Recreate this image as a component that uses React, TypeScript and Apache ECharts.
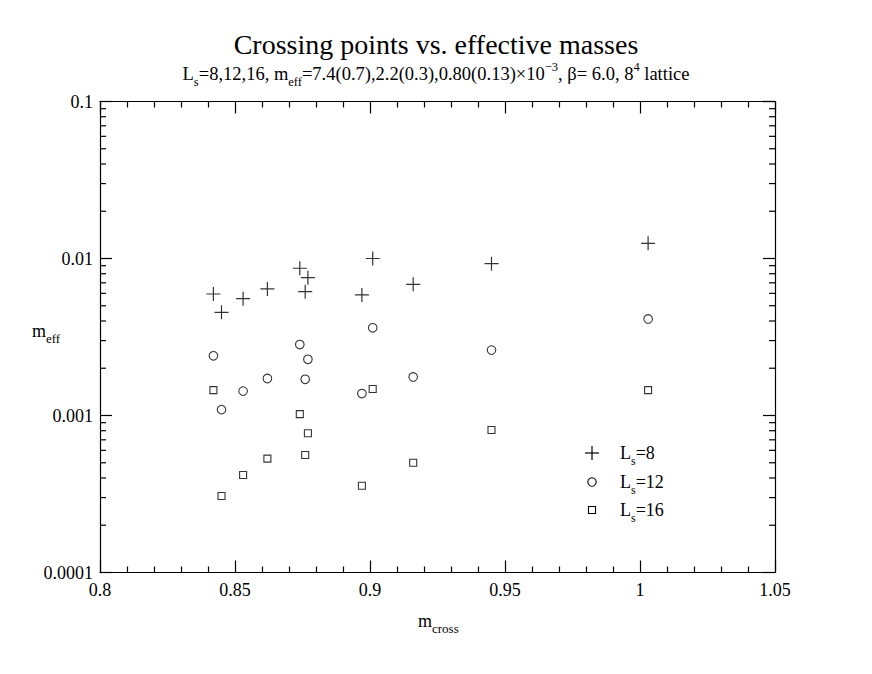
import React, { useEffect, useRef } from "react";
import * as echarts from "echarts";

const xCross = [0.842, 0.845, 0.853, 0.862, 0.874, 0.877, 0.876, 0.897, 0.901, 0.916, 0.945, 1.003];
const ls8 = [0.00594, 0.00454, 0.00555, 0.0064, 0.00867, 0.00755, 0.00615, 0.00586, 0.01, 0.00685, 0.00927, 0.0125];
const ls12 = [0.0024, 0.00109, 0.00143, 0.00172, 0.00283, 0.00228, 0.0017, 0.00138, 0.00362, 0.00176, 0.00261, 0.00412];
const ls16 = [0.00145, 0.000307, 0.000418, 0.000531, 0.00102, 0.000771, 0.00056, 0.000357, 0.001475, 0.0005, 0.000809, 0.00145];

const seriesNames = ["Ls=8", "Ls=12", "Ls=16"];
const legendLabels = ["=8", "=12", "=16"];
const yDecades = [0.0001, 0.001, 0.01];
const minorMultipliers = [2, 3, 4, 5, 6, 7, 8, 9];

const X_MIN = 0.8;
const X_MAX = 1.05;
const Y_MIN = 0.0001;
const Y_MAX = 0.1;

const FONT = "'Liberation Serif', 'DejaVu Serif', serif";
const PLUS = "path://M0,7L14,7M7,0L7,14";

export default function App() {
  const ref = useRef<HTMLDivElement>(null);
  useEffect(() => {
    document.body.style.margin = "0";
    if (!ref.current) return;
    const chart = echarts.init(ref.current, null, { renderer: "svg" });

    const minorVals: number[][] = [];
    yDecades.forEach((d) => minorMultipliers.forEach((k) => minorVals.push([X_MIN, k * d])));

    const pair = (ys: number[]) => xCross.map((x, i) => [x, ys[i]]);

    const base = { fontFamily: FONT, color: "#000" };
    const richN = (size: number) => ({ ...base, fontSize: size, lineHeight: 28 });
    const richSub = (size: number) => ({ ...base, fontSize: size, lineHeight: 8, verticalAlign: "bottom" });
    const richSup = (size: number) => ({ ...base, fontSize: size, lineHeight: 16, verticalAlign: "top" });

    const lineStyle = { color: "#000", width: 1.2 };
    const commonX = {
      type: "value",
      min: X_MIN,
      max: X_MAX,
      interval: 0.05,
      axisLine: { lineStyle },
      axisTick: { inside: true, length: 12, lineStyle },
      minorTick: { show: true, splitNumber: 5, length: 6, lineStyle },
      splitLine: { show: false },
    };
    const commonY = {
      type: "log",
      logBase: 10,
      min: Y_MIN,
      max: Y_MAX,
      axisLine: { lineStyle },
      axisTick: { inside: true, length: 12, lineStyle },
      splitLine: { show: false },
    };

    const legendItems: any[] = [];
    const lx = 592;
    const ly = [453, 482, 510];
    legendItems.push(
      { type: "line", shape: { x1: lx - 7, y1: ly[0], x2: lx + 7, y2: ly[0] }, style: { stroke: "#000", lineWidth: 1.2 } },
      { type: "line", shape: { x1: lx, y1: ly[0] - 7, x2: lx, y2: ly[0] + 7 }, style: { stroke: "#000", lineWidth: 1.2 } },
      { type: "circle", shape: { cx: lx, cy: ly[1], r: 4.2 }, style: { fill: "none", stroke: "#000", lineWidth: 1.1 } },
      { type: "rect", shape: { x: lx - 3.5, y: ly[2] - 3.5, width: 7, height: 7 }, style: { fill: "none", stroke: "#000", lineWidth: 1.1 } }
    );
    legendLabels.forEach((t, i) => {
      legendItems.push({
        type: "text",
        style: {
          x: 620,
          y: ly[i],
          text: `{n|L}{s|s}{n|${t}}`,
          verticalAlign: "middle",
          align: "left",
          rich: { n: richN(18), s: { ...richSub(12), lineHeight: 12 } },
        },
      });
    });

    chart.setOption({
      animation: false,
      backgroundColor: "#fff",
      title: [
        {
          text: "Crossing points vs. effective masses",
          left: "center",
          top: 25,
          textStyle: { fontFamily: FONT, fontSize: 28, fontWeight: "normal", color: "#000" },
        },
        {
          text: "{n|L}{s|s}{n|=8,12,16, m}{s|eff}{n|=7.4(0.7),2.2(0.3),0.80(0.13)×10}{p|−3}{n|, β= 6.0, 8}{p|4}{n| lattice}",
          left: "center",
          top: 55,
          textStyle: {
            fontFamily: FONT,
            fontSize: 18.5,
            fontWeight: "normal",
            color: "#000",
            rich: { n: richN(18.5), s: richSub(12.5), p: richSup(12.5) },
          },
        },
      ],
      grid: { left: 100, right: 97, top: 101.5, bottom: 101.5 },
      xAxis: [
        {
          ...commonX,
          position: "bottom",
          axisLabel: { margin: 8, fontFamily: FONT, fontSize: 18, color: "#000" },
        },
        {
          ...commonX,
          position: "top",
          axisLabel: { show: false },
        },
      ],
      yAxis: [
        {
          ...commonY,
          position: "left",
          axisLabel: {
            margin: 7,
            fontFamily: FONT,
            fontSize: 18,
            color: "#000",
            formatter: (v: number) => String(v),
          },
        },
        {
          ...commonY,
          position: "right",
          axisLabel: { show: false },
        },
      ],
      graphic: [
        {
          type: "text",
          style: {
            x: 32,
            y: 331,
            text: "{n|m}{s|eff}",
            verticalAlign: "middle",
            align: "left",
            rich: { n: richN(18), s: { ...richSub(13), lineHeight: 9 } },
          },
        },
        {
          type: "text",
          style: {
            x: 418,
            y: 621,
            text: "{n|m}{s|cross}",
            verticalAlign: "middle",
            align: "left",
            rich: { n: richN(18), s: { ...richSub(13), lineHeight: 9 } },
          },
        },
        ...legendItems,
      ],
      series: [
        {
          name: seriesNames[0],
          type: "scatter",
          data: pair(ls8),
          symbol: PLUS,
          symbolSize: 14,
          itemStyle: { color: "transparent", borderColor: "#000", borderWidth: 1.2 },
          silent: true,
        },
        {
          name: seriesNames[1],
          type: "scatter",
          data: pair(ls12),
          symbol: "circle",
          symbolSize: 8.6,
          itemStyle: { color: "transparent", borderColor: "#000", borderWidth: 1.1 },
          silent: true,
        },
        {
          name: seriesNames[2],
          type: "scatter",
          data: pair(ls16),
          symbol: "rect",
          symbolSize: 7,
          itemStyle: { color: "transparent", borderColor: "#000", borderWidth: 1.1 },
          silent: true,
        },
        {
          name: "minorTicks",
          type: "custom",
          silent: true,
          data: minorVals,
          renderItem: (params: any, api: any) => {
            const v = api.value(1);
            const pl = api.coord([X_MIN, v]);
            const pr = api.coord([X_MAX, v]);
            return {
              type: "group",
              children: [
                { type: "line", shape: { x1: pl[0], y1: pl[1], x2: pl[0] + 6, y2: pl[1] }, style: { stroke: "#000", lineWidth: 1.2 } },
                { type: "line", shape: { x1: pr[0] - 6, y1: pr[1], x2: pr[0], y2: pr[1] }, style: { stroke: "#000", lineWidth: 1.2 } },
              ],
            };
          },
        },
      ],
    });
    return () => chart.dispose();
  }, []);
  return <div ref={ref} style={{ width: 872, height: 674 }} />;
}
